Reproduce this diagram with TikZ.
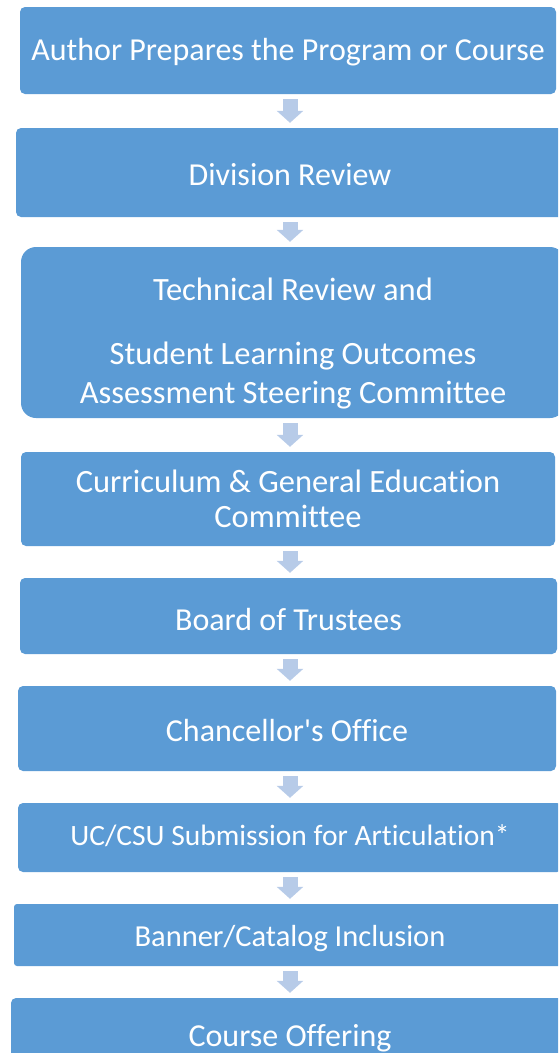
\documentclass[tikz,border=0pt]{standalone}
\usepackage{fontspec}
\setmainfont{Carlito}[Ligatures={CommonOff,TeXOff}]
\usetikzlibrary{arrows.meta}
\definecolor{boxblue}{HTML}{5B9BD5}
\definecolor{arrowblue}{HTML}{B7CBE8}
\begin{document}
\begin{tikzpicture}[x=1pt,y=-1pt,
  stage/.style={fill=boxblue,text=white,rounded corners=5pt,inner sep=0pt,align=center,text depth=0pt,font=\fontsize{32}{39}\selectfont},
  flow/.style={arrowblue,line width=15pt,-{Triangle[length=12pt,width=26pt]},shorten <=5pt,shorten >=5pt}]
\useasboundingbox (0,0) rectangle (558,1053);
\clip (0,0) rectangle (558,1053);
\coordinate (axis) at (290,0);
\node[stage,minimum width=536pt,minimum height=87pt,text height=20.4pt] (author) at (288,50.5) {Author Prepares the Program or Course};
\node[stage,minimum width=548pt,minimum height=89pt,text height=26.4pt] (division) at (290,172.5) {Division Review};
\node[stage,minimum width=544pt,minimum height=171pt,rounded corners=15pt,text height=141pt,font=\fontsize{32.5}{39}\selectfont] (technical) at (293,332.5) {Technical Review and\\[25pt]Student Learning Outcomes\\Assessment Steering Committee};
\node[stage,minimum width=534pt,minimum height=94pt,text height=56pt,font=\fontsize{32.5}{35}\selectfont] (curriculum) at (288,499) {Curriculum \& General Education\\Committee};
\node[stage,minimum width=537pt,minimum height=76pt,text height=28pt] (trustees) at (288.5,616) {Board of Trustees};
\node[stage,minimum width=538pt,minimum height=85pt,text height=26.4pt] (chancellor) at (287,728.5) {Chancellor's Office};
\node[stage,minimum width=544pt,minimum height=69pt,text height=16.4pt,font=\fontsize{29.5}{35}\selectfont] (ucsu) at (290,837.5) {UC/CSU Submission for Articulation*};
\node[stage,minimum width=552pt,minimum height=62pt,rounded corners=3pt,text height=23.4pt,font=\fontsize{30.5}{35}\selectfont] (banner) at (290,935) {Banner/Catalog Inclusion};
\node[stage,minimum width=558pt,minimum height=92pt,text height=5.4pt] (offering) at (290,1044) {Course Offering};
\foreach \a/\b in {author/division,division/technical,technical/curriculum,curriculum/trustees,trustees/chancellor,chancellor/ucsu,ucsu/banner,banner/offering}
  \draw[flow] (\a.south -| axis) -- (\b.north -| axis);
\end{tikzpicture}
\end{document}
